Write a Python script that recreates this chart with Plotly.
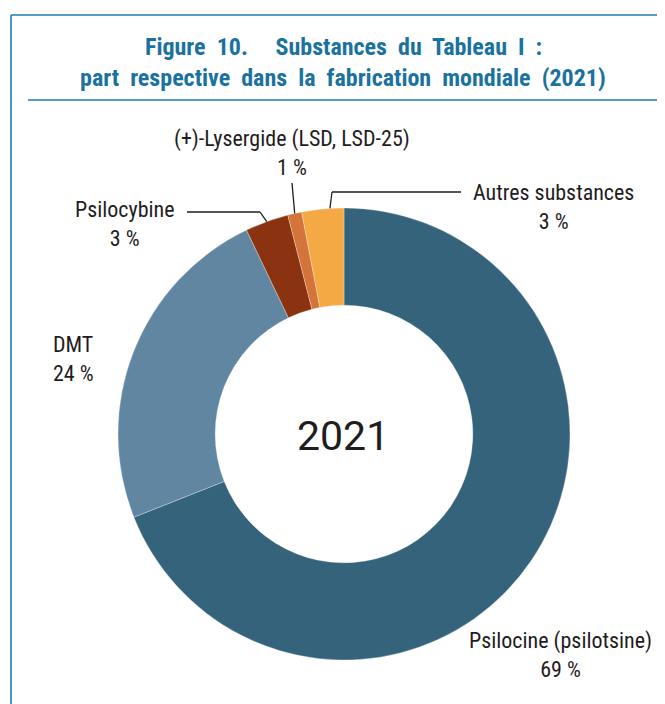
import math
import plotly.graph_objects as go

# ---- data ----
labels = ["Psilocine (psilotsine)", "DMT", "Psilocybine", "(+)-Lysergide (LSD, LSD-25)", "Autres substances"]
values = [69.0, 23.9, 3.1, 1.0, 3.0]
pct_text = ["69 %", "24 %", "3 %", "1 %", "3 %"]
colors = ["#35637B", "#6186A2", "#8B3311", "#D4743A", "#F5A944"]
center_label = "2021"
title_line1 = "Figure&nbsp; 10.&nbsp;&nbsp;&nbsp;&nbsp; Substances&nbsp; du&nbsp; Tableau&nbsp; I&nbsp; :"
title_line2 = "part&nbsp; respective&nbsp; dans&nbsp; la&nbsp; fabrication&nbsp; mondiale&nbsp; (2021)"

PAGE_W, PAGE_H = 665, 704
OFF = 8  # default page margin around the plot
W, H = PAGE_W - OFF, PAGE_H - OFF
CX, CY, R = 344, 434, 226  # donut placement in page pixels
TEAL = "#1A72A0"
FRAME = "#1C7DB0"
TXT = "#1F1D1E"


def px(x):
    return (x - OFF) / W


def py(y):
    return 1 - (y - OFF) / H


fig = go.Figure(go.Pie(
    labels=labels, values=values, sort=False, direction="clockwise", rotation=0,
    hole=0.57, marker=dict(colors=colors, line=dict(color="white", width=0.3)),
    textinfo="none", hoverinfo="label+percent", showlegend=False,
    domain=dict(x=[px(CX - R), px(CX + R)], y=[py(CY + R), py(CY - R)]),
))

# attachment points on the outer edge of each slice (from data)
attach_frac = [0.5, 0.5, 0.5, 0.5, 0.67]
total = sum(values)
edge = []
cum = 0
for v, f in zip(values, attach_frac):
    th = 2 * math.pi * (cum + v * f) / total
    edge.append((CX + R * math.sin(th), CY - R * math.cos(th)))
    cum += v

shapes = []


def seg(x0, y0, x1, y1, color=TXT, width=1.3):
    shapes.append(dict(type="line", xref="paper", yref="paper",
                       x0=px(x0), y0=py(y0), x1=px(x1), y1=py(y1),
                       line=dict(color=color, width=width)))


# leader lines
ex, ey = edge[3]
seg(ex, ey, 292, 183)
ex, ey = edge[2]
seg(ex, ey, 260, 212)
seg(260, 212, 187, 212)
ex, ey = edge[4]
seg(ex, ey, 332, 192)
seg(332, 192, 461, 192)

# frame and separator
seg(11, 15, 666, 15, FRAME, 1.6)
seg(11, 15, 11, 705, FRAME, 1.6)
seg(28, 100, 660, 100, FRAME, 1.6)

ann = []


def label(i, x, y, xanchor="center", align="center"):
    ann.append(dict(x=px(x), y=py(y), xref="paper", yref="paper", showarrow=False,
                    xanchor=xanchor, yanchor="middle", align=align,
                    text=labels[i] + "<br>" + pct_text[i],
                    font=dict(family="Roboto Condensed", size=22, color=TXT)))


label(0, 560, 655)
label(1, 51, 359, xanchor="left", align="left")
label(2, 125, 224)
label(3, 292, 153)
label(4, 553, 207)

ann.append(dict(x=px(CX - 1), y=py(CY + 2), xref="paper", yref="paper", showarrow=False,
                xanchor="center", yanchor="middle",
                text=center_label, font=dict(family="Roboto", size=41, color=TXT)))
ann.append(dict(x=px(343), y=py(47), xref="paper", yref="paper", showarrow=False,
                xanchor="center", yanchor="middle",
                text="<b>" + title_line1 + "</b>",
                font=dict(family="Roboto Condensed", size=24, color=TEAL)))
ann.append(dict(x=px(343), y=py(78), xref="paper", yref="paper", showarrow=False,
                xanchor="center", yanchor="middle",
                text="<b>" + title_line2 + "</b>",
                font=dict(family="Roboto Condensed", size=24, color=TEAL)))

fig.update_layout(width=W, height=H, margin=dict(l=0, r=0, t=0, b=0),
                  paper_bgcolor="white", plot_bgcolor="white",
                  shapes=shapes, annotations=ann)
fig.write_html("out.html")
